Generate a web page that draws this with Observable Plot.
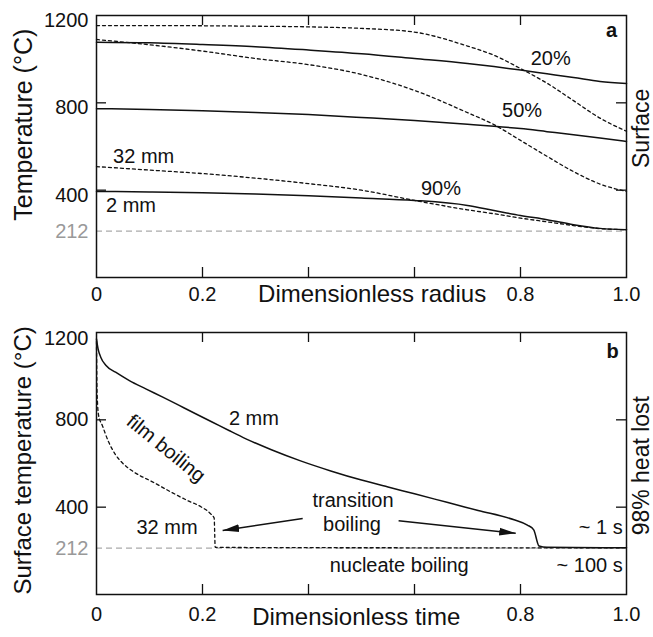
<!DOCTYPE html>
<html><head><meta charset="utf-8">
<script src="https://cdn.jsdelivr.net/npm/d3@7"></script>
<script src="https://cdn.jsdelivr.net/npm/@observablehq/plot@0.6"></script>
<style>body{margin:0;background:#fff} svg{display:block}</style>
</head><body><div id="chart"></div>
<script>
// ---------- Panel a data: temperature vs dimensionless radius ----------
const radius = [0, 0.1, 0.2, 0.3, 0.4, 0.5, 0.6, 0.7, 0.75, 0.8, 0.85, 0.9, 0.95, 1.0];
const a20_2mm  = [1078, 1075, 1067, 1057, 1042, 1025, 1003, 980, 966, 950, 933, 916, 898, 888];
const a20_32mm = [1154, 1154, 1153, 1151, 1148, 1141, 1124, 1060, 1018, 957, 890, 810, 730, 670];
const a50_2mm  = [773, 770, 764, 756, 746, 733, 719, 702, 693, 682, 668, 654, 639, 623];
const a50_32mm = [1090, 1066, 1037, 1003, 975, 930, 857, 755, 700, 628, 555, 485, 428, 394];
const a90_2mm  = [394, 392, 388, 382, 374, 364, 353, 330, 307, 284, 265, 242, 225, 219];
const a90_32mm = [508, 492, 476, 455, 430, 400, 353, 310, 292, 272, 255, 238, 224, 219];
const boilPoint = 212;

// ---------- Panel b data: surface temperature vs dimensionless time ----------
const time2mm = [0, 0.003, 0.008, 0.018, 0.036, 0.062, 0.093, 0.125, 0.156, 0.187, 0.219, 0.25, 0.282, 0.33, 0.385, 0.442, 0.5, 0.55, 0.6, 0.663, 0.72, 0.788, 0.813, 0.825, 0.835, 0.85, 0.9, 1.0];
const temp2mm = [1170, 1125, 1087, 1049, 1018, 980, 942, 904, 866, 828, 789, 751, 713, 663, 612, 566, 524, 492, 461, 421, 385, 342, 318, 296, 222, 216, 215, 214];
const time32mm = [0, 0.001, 0.004, 0.011, 0.023, 0.036, 0.05, 0.07, 0.108, 0.14, 0.172, 0.197, 0.216, 0.222, 0.224, 0.3, 0.6, 1.0];
const temp32mm = [1160, 930, 820, 774, 698, 640, 600, 562, 513, 470, 430, 402, 368, 350, 216, 215, 214, 214];

// ---------- ticks & labels ----------
const xTickValues = [0, 0.2, 0.8, 1.0];
const xTickLabels = ["0", "0.2", "0.8", "1.0"];
const innerXTicks = [0.2, 0.4, 0.6, 0.8];
const innerYTicks = [400, 800];

const labelsA = [
  {x: 0.857, y: 1003, text: "20%"},
  {x: 0.803, y: 765, text: "50%"},
  {x: 0.65, y: 408, text: "90%"},
  {x: 0.089, y: 554, text: "32 mm"},
  {x: 0.065, y: 330, text: "2 mm"}
];
const labelsB = [
  {x: 0.297, y: 806, text: "2 mm"},
  {x: 0.133, y: 307, text: "32 mm"},
  {x: 0.484, y: 432, text: "transition"},
  {x: 0.482, y: 318, text: "boiling"},
  {x: 0.571, y: 133, text: "nucleate boiling"}
];
const labelsBRight = [
  {x: 0.993, y: 307, text: "~ 1 s"},
  {x: 0.993, y: 133, text: "~ 100 s"}
];
const filmLabel = [{x: 0.131, y: 669, text: "film boiling"}];
const arrowsB = [
  {x1: 0.389, y1: 348, x2: 0.238, y2: 293},
  {x1: 0.570, y1: 338, x2: 0.791, y2: 280}
];

// ---------- build tables ----------
const seriesA = [
  {pct: "20%", size: "2 mm", v: a20_2mm}, {pct: "20%", size: "32 mm", v: a20_32mm},
  {pct: "50%", size: "2 mm", v: a50_2mm}, {pct: "50%", size: "32 mm", v: a50_32mm},
  {pct: "90%", size: "2 mm", v: a90_2mm}, {pct: "90%", size: "32 mm", v: a90_32mm}
];
const rowsA = seriesA.flatMap(s => s.v.map((t, i) => ({x: radius[i], y: t, pct: s.pct, size: s.size})));
const rowsB2 = time2mm.map((t, i) => ({x: t, y: temp2mm[i]}));
const rowsB32 = time32mm.map((t, i) => ({x: t, y: temp32mm[i]}));

const FONT = "'Liberation Sans', Arial, Helvetica, sans-serif";
const W = 653, ML = 96, MR = 27;
const PW = W - ML - MR;
const TICK = 10;

function commonMarks(ph, xPad, yDy, topDy) {
  return [
    Plot.ruleY([boilPoint], {stroke: "#aaa", strokeWidth: 1.2, strokeDasharray: "6,4"}),
    Plot.tickX(innerXTicks, {x: d => d, insetBottom: ph - TICK, stroke: "#111", strokeWidth: 1.3}),
    Plot.tickX(innerXTicks, {x: d => d, insetTop: ph - TICK, stroke: "#111", strokeWidth: 1.3}),
    Plot.tickY(innerYTicks, {y: d => d, insetRight: PW - TICK, stroke: "#111", strokeWidth: 1.3}),
    Plot.tickY(innerYTicks, {y: d => d, insetLeft: PW - TICK, stroke: "#111", strokeWidth: 1.3}),
    Plot.axisX({ticks: xTickValues, tickSize: 0, tickPadding: xPad, fontSize: 20, fill: "#111",
      tickFormat: d => xTickLabels[xTickValues.indexOf(d)], label: null}),
    Plot.axisY({ticks: [400, 800], tickSize: 0, tickPadding: 8, fontSize: 20, fill: "#111", dy: yDy, tickFormat: d => String(d), label: null}),
    Plot.axisY({ticks: [1200], tickSize: 0, tickPadding: 8, fontSize: 20, fill: "#111", dy: topDy, tickFormat: d => String(d), label: null}),
    Plot.text([boilPoint], {y: d => d, frameAnchor: "left", dx: -8, textAnchor: "end", fill: "#999", fontSize: 20, text: d => String(d)}),
    Plot.frame({stroke: "#111", strokeWidth: 1.5})
  ];
}

const panelA = Plot.plot({
  width: W, height: 310, marginTop: 15, marginBottom: 33, marginLeft: ML, marginRight: MR,
  style: {fontFamily: FONT, fontSize: "20px", background: "#fff", overflow: "visible"},
  x: {domain: [0, 1], axis: null},
  y: {domain: [0, 1200], axis: null},
  marks: [
    ...commonMarks(262, 9, 5, 5),
    Plot.line(rowsA.filter(d => d.size === "2 mm"), {x: "x", y: "y", z: "pct", stroke: "#111", strokeWidth: 1.5, curve: "monotone-x"}),
    Plot.line(rowsA.filter(d => d.size === "32 mm"), {x: "x", y: "y", z: "pct", stroke: "#111", strokeWidth: 1.3, strokeDasharray: "3,3", curve: "monotone-x"}),
    Plot.text(labelsA, {x: "x", y: "y", text: "text", fontSize: 20, fill: "#111"}),
    Plot.text(["a"], {x: 0.972, y: 1131, text: d => d, fontSize: 20, fontWeight: "bold", fill: "#111"}),
    Plot.text(["Dimensionless radius"], {x: 0.52, frameAnchor: "bottom", dy: 24, text: d => d, fontSize: 24, fill: "#111"}),
    Plot.text(["Temperature (°C)"], {y: 700, frameAnchor: "left", textAnchor: "middle", dx: -73, rotate: -90, text: d => d, fontSize: 25, fill: "#111"}),
    Plot.text(["Surface"], {y: 683, frameAnchor: "right", textAnchor: "middle", dx: 15, rotate: -90, text: d => d, fontSize: 23, fill: "#111"})
  ]
});

const panelB = Plot.plot({
  width: W, height: 327, marginTop: 22, marginBottom: 43, marginLeft: ML, marginRight: MR,
  style: {fontFamily: FONT, fontSize: "20px", background: "#fff", overflow: "visible"},
  x: {domain: [0, 1], axis: null},
  y: {domain: [0, 1200], axis: null},
  marks: [
    ...commonMarks(262, 12, 0, 6),
    Plot.line(rowsB2, {x: "x", y: "y", stroke: "#111", strokeWidth: 1.5, curve: "monotone-x"}),
    Plot.line(rowsB32, {x: "x", y: "y", stroke: "#111", strokeWidth: 1.3, strokeDasharray: "3,3", curve: "monotone-x"}),
    Plot.link(arrowsB, {x1: "x1", y1: "y1", x2: "x2", y2: "y2", stroke: "#111", strokeWidth: 1.5, markerEnd: "arrow"}),
    Plot.text(labelsB, {x: "x", y: "y", text: "text", fontSize: 20, fill: "#111"}),
    Plot.text(labelsBRight, {x: "x", y: "y", text: "text", fontSize: 20, textAnchor: "end", fill: "#111"}),
    Plot.text(filmLabel, {x: "x", y: "y", text: "text", rotate: 39, fontSize: 20, fill: "#111"}),
    Plot.text(["b"], {x: 0.974, y: 1113, text: d => d, fontSize: 20, fontWeight: "bold", fill: "#111"}),
    Plot.text(["Dimensionless time"], {x: 0.49, frameAnchor: "bottom", dy: 30, text: d => d, fontSize: 24, fill: "#111"}),
    Plot.text(["Surface temperature (°C)"], {y: 614, frameAnchor: "left", textAnchor: "middle", dx: -73, rotate: -90, text: d => d, fontSize: 24, fill: "#111"}),
    Plot.text(["98% heat lost"], {y: 590, frameAnchor: "right", textAnchor: "middle", dx: 15, rotate: -90, text: d => d, fontSize: 23, fill: "#111"})
  ]
});

// filled arrowheads
panelB.querySelectorAll("marker").forEach(m => {
  m.setAttribute("viewBox", "-10 -5 10 10");
  m.setAttribute("markerWidth", "11");
  m.setAttribute("markerHeight", "11");
  m.setAttribute("fill", "#111");
  m.setAttribute("stroke", "none");
  m.innerHTML = "";
  const p = document.createElementNS("http://www.w3.org/2000/svg", "path");
  p.setAttribute("d", "M-10,-2.4L0,0L-10,2.4Z");
  m.appendChild(p);
});

const chart = document.getElementById("chart");
chart.appendChild(panelA);
chart.appendChild(panelB);
</script>
</body></html>
